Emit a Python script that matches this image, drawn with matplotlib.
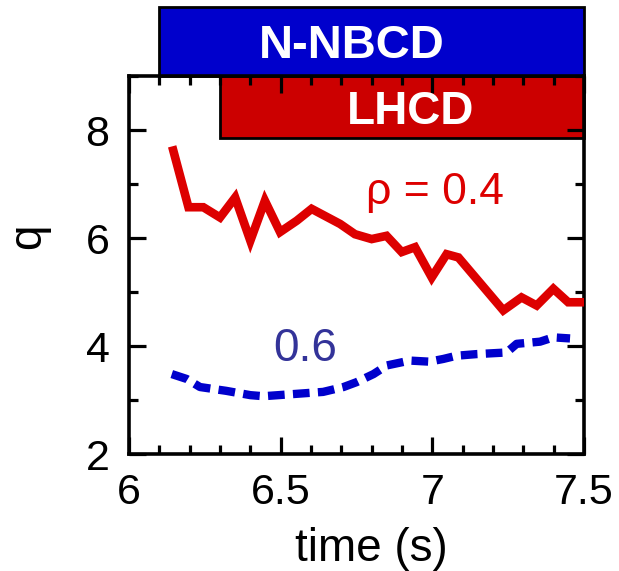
import matplotlib
matplotlib.use("Agg")
import matplotlib.pyplot as plt
from matplotlib.patches import Rectangle
from matplotlib.ticker import MultipleLocator

plt.rcParams['font.family'] = ['Liberation Sans', 'DejaVu Sans']

# rho = 0.4 (red solid)
t_04 = [6.146, 6.196, 6.245, 6.30, 6.35, 6.40, 6.448, 6.498, 6.553, 6.602, 6.696,
        6.745, 6.80, 6.849, 6.899, 6.943, 6.998, 7.047, 7.086, 7.234, 7.294, 7.344,
        7.399, 7.448, 7.50]
q_04 = [7.62, 6.57, 6.57, 6.38, 6.75, 5.95, 6.69, 6.11, 6.32, 6.54, 6.26,
        6.07, 5.98, 6.04, 5.74, 5.83, 5.27, 5.70, 5.64, 4.66, 4.90, 4.75,
        5.06, 4.81, 4.81]

# rho = 0.6 (blue dashed)
t_06 = [6.141, 6.19, 6.234, 6.32, 6.40, 6.443, 6.542, 6.64, 6.707, 6.75, 6.806,
        6.85, 6.926, 6.99, 7.036, 7.08, 7.146, 7.245, 7.278, 7.355, 7.399, 7.454]
q_06 = [3.48, 3.39, 3.24, 3.17, 3.09, 3.07, 3.11, 3.15, 3.24, 3.33, 3.48,
        3.64, 3.73, 3.71, 3.76, 3.82, 3.85, 3.88, 4.04, 4.08, 4.16, 4.14]

# heating windows
nbcd_window = (6.1, 7.5)
lhcd_window = (6.3, 7.5)

xticks = [6, 6.5, 7, 7.5]
xticklabels = ['6', '6.5', '7', '7.5']
yticks = [2, 4, 6, 8]

fig = plt.figure(figsize=(6.19, 5.71), dpi=100)
ax = fig.add_axes([129/619, 1-454/571, 455/619, 378/571])

ax.plot(t_04, q_04, color='#DD0000', lw=6.2, solid_joinstyle='miter', zorder=3)
ax.plot(t_06, q_06, color='#0000CC', lw=6.0, dashes=(2.0, 1.0),
        dash_capstyle='butt', zorder=3)

ax.set_xlim(6, 7.5)
ax.set_ylim(2, 9)

# N-NBCD box (above axes)
ax.add_patch(Rectangle((nbcd_window[0], 9.0), nbcd_window[1]-nbcd_window[0], 1.28,
                       facecolor='#0000CC', edgecolor='black', lw=2,
                       clip_on=False, zorder=1))
ax.text(6.735, 9.33, 'N-NBCD', color='white', fontsize=34, fontweight='bold',
        ha='center', va='baseline', clip_on=False, zorder=2)
# LHCD box (inside axes top)
ax.add_patch(Rectangle((lhcd_window[0], 7.85), lhcd_window[1]-lhcd_window[0], 1.15,
                       facecolor='#CC0000', edgecolor='black', lw=2,
                       clip_on=False, zorder=1))
ax.text(6.929, 8.11, 'LHCD', color='white', fontsize=33, fontweight='bold',
        ha='center', va='baseline', zorder=2)

ax.text(7.009, 6.63, 'ρ = 0.4', color='#DD0000', fontsize=32,
        ha='center', va='baseline')
ax.text(6.58, 3.72, '0.6', color='#333399', fontsize=33,
        ha='center', va='baseline')

ax.set_xticks(xticks)
ax.set_xticklabels(xticklabels)
ax.set_yticks(yticks)
ax.xaxis.set_minor_locator(MultipleLocator(0.1))
ax.yaxis.set_minor_locator(MultipleLocator(1))
ax.tick_params(which='both', direction='in', top=True, right=True, width=2.3,
               labelsize=31, pad=14)
ax.tick_params(which='major', length=12.5)
ax.tick_params(which='minor', length=6.5)
for s in ax.spines.values():
    s.set_linewidth(2.6)

fig.text(371/619, 1-561/571, 'time (s)', fontsize=33, ha='center', va='baseline')
fig.text(28/619, 1-236/571, 'q', fontsize=33, ha='center', va='center', rotation=90)

fig.savefig('out.png', dpi=100)
